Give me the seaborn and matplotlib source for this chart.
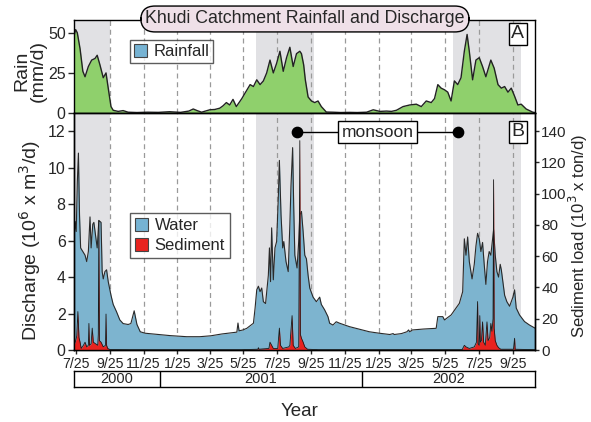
import numpy as np
import pandas as pd
import matplotlib
matplotlib.use("Agg")
import matplotlib.pyplot as plt
from matplotlib.patches import Patch
import seaborn as sns

# ---------------- data (days since 2000-07-25) ----------------
rain_day = [-3, 0, 3, 8, 13, 17, 23, 29, 35, 39, 44, 50, 55, 59, 64, 68, 77, 86, 95, 111,
            130, 150, 170, 190, 205, 213, 220, 228, 243, 252, 261, 267, 273, 279, 285, 291,
            301, 307, 316, 322, 328, 334, 340, 346, 352, 358, 364, 370, 376, 382, 388, 394,
            400, 406, 409, 413, 416, 421, 427, 433, 439, 445, 454, 466, 480, 496, 510, 527,
            539, 551, 563, 572, 581, 593, 605, 617, 626, 635, 644, 650, 656, 662, 668, 674,
            680, 686, 692, 698, 704, 709, 713, 719, 725, 731, 737, 743, 752, 758, 765, 771,
            777, 783, 789, 795, 801, 807, 816, 828, 832]
rain_val = [48, 52, 50, 40, 26, 22.6, 29, 33, 34, 36, 30, 22, 25, 15.5, 4, 1.7, 1, 1.5, 0.5, 0.3,
            0.5, 0.4, 0.8, 0.4, 1.2, 2.5, 1.5, 0.5, 2, 2.2, 3, 4.5, 6.5, 5, 8.5, 4,
            9, 12.5, 17.7, 16.5, 20.7, 17.7, 20, 25, 33, 25, 31, 38.5, 26, 34.5, 41, 29,
            37, 38.5, 37, 30, 20.7, 10, 7.5, 6.5, 7.5, 4, 0.6, 0.5, 0.3, 0.4, 0.3, 0.5,
            2, 1, 1.2, 1.0, 1.7, 4, 5, 5.5, 4, 7.5, 6.5, 9, 17.7, 15.5, 14.5, 13,
            7.5, 20, 17.7, 22, 38.5, 49, 38.5, 20.7, 33, 34.5, 29, 22.6, 33, 28, 17.7, 15.5,
            16.5, 13, 15.5, 10.5, 5, 5.5, 2.5, 0.5, 0.3]

water_day = [-3, -1, 1, 3, 5, 7, 9, 13, 17, 20, 23, 26, 28, 31, 33, 36, 39, 42, 46, 48, 50,
             53, 56, 59, 64, 68, 74, 80, 86, 95, 100, 106, 111, 117, 126, 147, 171, 201, 225,
             245, 265, 285, 292, 294, 296, 303, 310, 322, 325, 328, 331, 334, 337, 340, 344,
             349, 351, 353, 355, 358, 361, 364, 367, 369, 372, 375, 377, 381, 385, 388, 390,
             393, 395, 397, 401, 404, 406, 409, 412, 415, 418, 421, 424, 430, 436, 442, 445,
             451, 457, 460, 466, 472, 478, 496, 514, 532, 550, 569, 575, 577, 590, 600, 603,
             605, 610, 630, 653, 656, 665, 668, 680, 689, 695, 701, 704, 707, 710, 713, 718,
             722, 725, 728, 731, 734, 737, 740, 743, 746, 749, 752, 757, 760, 763, 766, 769,
             771, 777, 781, 786, 792, 795, 798, 804, 813, 822, 832]
water_val = [6.0, 7.05, 6.5, 9.2, 10.8, 7.4, 5.6, 5.4, 5.2, 4.85, 5.4, 7.3, 5.6, 6.9, 7.0, 6.3, 5.6, 7.1, 7.0, 4.3, 3.9,
             4.3, 4.4, 3.75, 3.0, 2.5, 2.1, 1.65, 1.45, 1.4, 1.45, 2.15, 1.4, 1.0, 0.92, 0.86, 0.79, 0.73, 0.73,
             0.78, 0.88, 0.95, 0.98, 1.48, 1.05, 1.1, 1.19, 1.47, 2.3, 3.3, 3.5, 3.2, 3.4, 2.65, 2.55,
             4.1, 5.6, 3.75, 6.7, 3.85, 5.6, 5.95, 8.3, 10.4, 7.4, 5.6, 5.95, 4.85, 4.3, 6.9, 9.0,
             11.1, 7.8, 5.2, 4.5, 5.95, 7.4, 7.6, 6.5, 5.2, 5.0, 4.1, 3.4, 2.9, 2.65, 2.9, 2.5,
             2.2, 1.83, 1.47, 1.37, 1.55, 1.47, 1.28, 1.14, 1.0, 0.92, 0.85, 0.9, 0.85, 0.9, 1.0, 1.1,
             1.0, 1.1, 1.15, 1.19, 1.83, 1.83, 1.65, 1.92, 2.3, 2.56, 3.2, 6.1, 5.2, 6.2, 4.85, 3.9,
             4.7, 5.7, 6.4, 6.1, 5.4, 5.9, 4.7, 3.6, 4.85, 5.4, 5.2, 6.6, 5.2, 4.3, 4.0, 4.7,
             4.4, 3.0, 2.65, 2.4, 2.9, 3.3, 2.3, 1.92, 1.56, 1.37, 1.2]

sed_day = [-3, 0, 2, 4, 6, 8, 10, 14, 17, 20, 23, 24, 25, 28, 30, 32, 36, 40, 41, 42, 43, 46,
           50, 54, 55, 56, 58, 62, 100, 300, 330, 331, 332, 350, 352, 355, 358, 366, 369, 371,
           375, 386, 388, 392, 394, 398, 404, 406, 407, 409, 412, 415, 420, 440, 700, 704, 707,
           713, 722, 726, 728, 729, 731, 732, 733, 735, 737, 739, 742, 745, 747, 750, 752, 754,
           756, 757, 758, 760, 763, 766, 770, 793, 795, 796, 832]
sed_val = [3, 6, 9, 24.6, 8, 5, 1, 3, 5, 2, 3, 17, 3, 4, 14, 5, 4, 3, 10, 83, 6, 5,
           2, 3, 23, 3, 1, 0.3, 0.2, 0.2, 0.5, 1.5, 0.5, 1, 5, 3, 1, 1, 14, 3,
           1, 2, 3, 22, 3, 1, 2, 134, 10, 7.5, 5, 2, 0.5, 0.2, 0.2, 3, 2,
           1, 2, 5, 31, 4, 3, 22, 5, 6, 18, 5, 3, 18, 6, 8, 17, 12,
           20, 109, 14, 6, 3, 1.5, 0.5, 0.5, 7.5, 0.5, 0.2]

monsoon_spans = [(-3, 62), (327, 431), (683, 807)]
year_labels = ["2000", "2001", "2002"]
year_bounds = [-3, 153, 518, 832]

start = pd.Timestamp("2000-07-25")
tick_dates = [start + pd.DateOffset(months=2 * i) for i in range(14)]
tick_days = [(d - start).days for d in tick_dates]
tick_labels = [f"{d.month}/25" for d in tick_dates]

XMIN, XMAX = -3, 832

# ---------------- style ----------------
sns.set_theme(style="ticks")
plt.rcParams["font.family"] = ["Liberation Sans", "DejaVu Sans"]
plt.rcParams["axes.edgecolor"] = "black"
plt.rcParams["axes.linewidth"] = 1.0

fig = plt.figure(figsize=(5.91, 4.22), dpi=100)
L, W = 74 / 591, 461 / 591
axA = fig.add_axes([L, 1 - 113 / 422, W, 93 / 422])
axB = fig.add_axes([L, 1 - 350 / 422, W, 237 / 422])
axY = fig.add_axes([L, 1 - 387 / 422, W, 16 / 422])

shade = "#e1e1e4"
dash_col = "#9a9a9a"

for ax in (axA, axB):
    for a, b in monsoon_spans:
        ax.axvspan(a, b, color=shade, lw=0, zorder=0)
    for d in tick_days[1:]:
        ax.axvline(d, color=dash_col, lw=0.9, ls=(0, (4, 3)), zorder=0.5)
    ax.set_xlim(XMIN, XMAX)

# ---- panel A: rainfall ----
rain = pd.DataFrame({"day": rain_day, "rain": rain_val})
axA.fill_between(rain["day"], rain["rain"], color="#8fd06c", lw=0, zorder=1)
sns.lineplot(data=rain, x="day", y="rain", ax=axA, color="#222222", lw=1.0, zorder=2)
axA.set_ylim(0, 58)
axA.set_yticks([0, 25, 50])
axA.set_xticks([])
axA.set_xlabel("")
axA.set_ylabel("")
axA.tick_params(axis="y", labelsize=11.5, length=4, width=1, direction="out", left=True, pad=2)
axA.text(0.963, 0.85, "A", transform=axA.transAxes, fontsize=14, ha="center", va="center",
         bbox=dict(boxstyle="square,pad=0.15", fc="white", ec="black", lw=1.0), zorder=5)
legA = axA.legend(handles=[Patch(fc="#76b3d3", ec="#444444", lw=0.8, label="Rainfall")],
                  loc="upper left", bbox_to_anchor=(0.122, 0.78), fontsize=12,
                  frameon=True, fancybox=False, edgecolor="#333333", handlelength=0.8,
                  handleheight=0.8, handletextpad=0.4, borderpad=0.22, borderaxespad=0)
legA.get_frame().set_linewidth(1.0)

# ---- panel B: discharge & sediment ----
water = pd.DataFrame({"day": water_day, "water": water_val})
axB.fill_between(water["day"], water["water"], color="#7db4cf", lw=0, zorder=1)
sns.lineplot(data=water, x="day", y="water", ax=axB, color="#2a2a2a", lw=0.8, zorder=2)
axB.set_ylim(0, 13)
axB.set_yticks(range(0, 13, 2))
axB.set_xticks(tick_days)
axB.set_xticklabels(tick_labels)
axB.set_xlabel("")
axB.set_ylabel("")
axB.tick_params(axis="x", labelsize=10.2, length=3, width=1, direction="out", pad=2)
axB.tick_params(axis="y", labelsize=11.5, length=4, width=1, direction="out", pad=2)

axS = axB.twinx()
sed = pd.DataFrame({"day": sed_day, "sed": sed_val})
axS.fill_between(sed["day"], sed["sed"], color="#e8231f", lw=0, zorder=1)
sns.lineplot(data=sed, x="day", y="sed", ax=axS, color="#1a1a1a", lw=0.6, zorder=2)
axS.set_ylim(0, 13 * 140 / 12)
axS.set_yticks(range(0, 141, 20))
axS.set_xlim(XMIN, XMAX)
axS.set_ylabel("")
axS.tick_params(axis="y", labelsize=11, length=3, width=1, direction="out", pad=1.5)
for sp in axS.spines.values():
    sp.set_color("black")

# axis titles
fig.text(22 / 591, 1 - 71 / 422, "Rain", rotation=90, ha="center", va="center", fontsize=14)
fig.text(38 / 591, 1 - 71 / 422, "(mm/d)", rotation=90, ha="center", va="center", fontsize=14)
fig.text(30 / 591, 1 - 241 / 422, "Discharge (10$^6$ x m$^3$/d)", rotation=90,
         ha="center", va="center", fontsize=14)
fig.text(578 / 591, 1 - 236 / 422, "Sediment load (10$^3$ x ton/d)", rotation=90,
         ha="center", va="center", fontsize=12)

# monsoon annotation
d0, d1 = 401, 692
axS.plot([d0, d1], [139.5, 139.5], color="black", lw=1.0, zorder=4)
axS.scatter([d0, d1], [139.5, 139.5], s=55, color="black", zorder=5)
axS.text((d0 + d1) / 2, 139.5, "monsoon", fontsize=12.5, ha="center", va="center", zorder=6,
         bbox=dict(boxstyle="square,pad=0.2", fc="white", ec="black", lw=1.0))
axS.text(0.963, 0.92, "B", transform=axS.transAxes, fontsize=14, ha="center", va="center",
         bbox=dict(boxstyle="square,pad=0.15", fc="white", ec="black", lw=1.0), zorder=6)

legB = axS.legend(handles=[Patch(fc="#76b3d3", ec="#444444", lw=0.8, label="Water"),
                           Patch(fc="#e8231f", ec="#444444", lw=0.8, label="Sediment")],
                  loc="upper left", bbox_to_anchor=(0.121, 0.578), fontsize=12,
                  frameon=True, fancybox=False, edgecolor="#333333", handlelength=0.8,
                  handleheight=0.8, handletextpad=0.4, borderpad=0.3, labelspacing=0.3,
                  borderaxespad=0)
legB.get_frame().set_linewidth(1.0)
legB.set_zorder(10)

# ---- year bar ----
axY.set_xlim(XMIN, XMAX)
axY.set_ylim(0, 1)
axY.set_xticks([])
axY.set_yticks([])
for b in year_bounds[1:-1]:
    axY.axvline(b, color="black", lw=1.0)
for lab, a, b in zip(year_labels, year_bounds[:-1], year_bounds[1:]):
    axY.text((a + b) / 2, 0.5, lab, ha="center", va="center", fontsize=10.5)
fig.text(300 / 591, 1 - 411 / 422, "Year", ha="center", va="center", fontsize=13.5)

# ---- title ----
fig.text(0.516, 0.955, "Khudi Catchment Rainfall and Discharge", ha="center", va="center",
         fontsize=12.8, zorder=20,
         bbox=dict(boxstyle="round,pad=0.25,rounding_size=0.8", fc="#efe0e8", ec="black", lw=1.0))

fig.savefig("out.png", dpi=100)
